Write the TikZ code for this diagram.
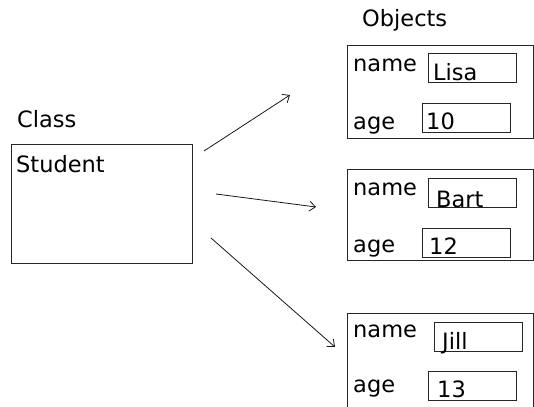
\documentclass[tikz,border=0pt]{standalone}
\usepackage{fontspec}
\setmainfont{DejaVu Sans}
\usetikzlibrary{arrows.meta}
\tikzset{
  x=1pt, y=-1pt,
  txt/.style={anchor=base west, inner sep=0pt, font=\fontsize{22.5}{26}\selectfont},
  frame/.style={draw=black!85, line width=1pt, inner sep=0pt, anchor=north west},
  field/.style={draw=black!85, line width=0.9pt, inner sep=0pt, anchor=north west,
    minimum width=88pt, minimum height=29pt},
  link/.style={draw=black!90, line width=0.8pt,
    -{Straight Barb[length=6pt,width=10pt,line width=0.8pt]}}
}
\begin{document}
\begin{tikzpicture}
\clip (0,0) rectangle (534,406);
\fill[white] (0,0) rectangle (534,406);

% class side
\node[txt] (classlbl) at (17,128) {Class};
\node[frame, minimum width=181pt, minimum height=119pt] (student) at (11,144) {};
\node[txt] (studentlbl) at (16,172) {Student};

% object side
\node[txt] (objlbl) at (362,27) {Objects};

% object 1
\node[frame, minimum width=186pt, minimum height=93pt] (obj1) at (347,45) {};
\node[txt] (n1) at (353,72) {name};
\node[field] (nb1) at (428,53) {};
\node[txt] (nv1) at (433,81) {Lisa};
\node[txt] (a1) at (353,130) {age};
\node[field] (ab1) at (422,103) {};
\node[txt] (av1) at (426,130) {10};

% object 2
\node[frame, minimum width=186pt, minimum height=91pt] (obj2) at (347,169) {};
\node[txt] (n2) at (353,195) {name};
\node[field] (nb2) at (428,178) {};
\node[txt] (nv2) at (436,207) {Bart};
\node[txt] (a2) at (353,252) {age};
\node[field] (ab2) at (422,228) {};
\node[txt] (av2) at (429,254) {12};

% object 3
\node[frame, minimum width=186pt, minimum height=110pt] (obj3) at (347,313) {};
\node[txt] (n3) at (353,337) {name};
\node[field] (nb3) at (434,322) {};
\node[txt] (nv3) at (442,349) {Jill};
\node[txt] (a3) at (353,392) {age};
\node[field] (ab3) at (428,371) {};
\node[txt] (av3) at (437,397) {13};

% instantiation arrows
\coordinate (s1) at (204,151);
\coordinate (e1) at (290,95);
\coordinate (s2) at (216,194);
\coordinate (e2) at (316,207);
\coordinate (s3) at (211,238);
\coordinate (e3) at (335,347);
\draw[link] (s1) -- (e1);
\draw[link] (s2) -- (e2);
\draw[link] (s3) -- (e3);
\end{tikzpicture}
\end{document}
